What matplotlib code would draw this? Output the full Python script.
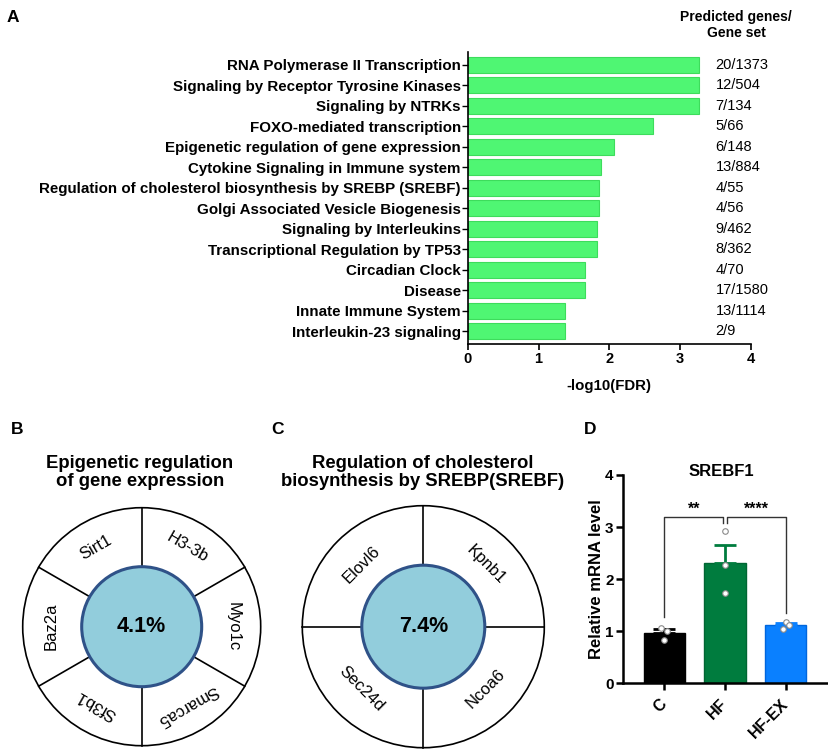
import matplotlib
matplotlib.use('Agg')
import matplotlib.pyplot as plt
import numpy as np
from matplotlib.patches import Circle

plt.rcParams['font.family'] = ['Liberation Sans', 'DejaVu Sans']

# ---------------- data ----------------
pathways = [
    'RNA Polymerase II Transcription',
    'Signaling by Receptor Tyrosine Kinases',
    'Signaling by NTRKs',
    'FOXO-mediated transcription',
    'Epigenetic regulation of gene expression',
    'Cytokine Signaling in Immune system',
    'Regulation of cholesterol biosynthesis by SREBP (SREBF)',
    'Golgi Associated Vesicle Biogenesis',
    'Signaling by Interleukins',
    'Transcriptional Regulation by TP53',
    'Circadian Clock',
    'Disease',
    'Innate Immune System',
    'Interleukin-23 signaling',
]
neglog_fdr = [3.26, 3.26, 3.26, 2.61, 2.07, 1.88, 1.86, 1.86, 1.82, 1.82,
              1.66, 1.66, 1.37, 1.37]
gene_ratio = ['20/1373', '12/504', '7/134', '5/66', '6/148', '13/884', '4/55',
              '4/56', '9/462', '8/362', '4/70', '17/1580', '13/1114', '2/9']

title_B = 'Epigenetic regulation\nof gene expression'
genes_B = ['Myo1c', 'H3-3b', 'Sirt1', 'Baz2a', 'Sf3b1', 'Smarca5']
pct_B = '4.1%'

title_C = 'Regulation of cholesterol\nbiosynthesis by SREBP(SREBF)'
genes_C = ['Kpnb1', 'Elovl6', 'Sec24d', 'Ncoa6']
pct_C = '7.4%'

groups = ['C', 'HF', 'HF-EX']
points = [[1.07, 1.01, 0.83], [2.92, 2.27, 1.74], [1.18, 1.11, 1.05]]
point_jitter = [[-0.06, 0.05, 0.0], [0.0, 0.0, 0.0], [0.0, 0.05, -0.05]]
sig_pairs = [(0, 1, '**'), (1, 2, '****')]
bracket_y = 3.19
bracket_tip = [1.28, 3.08, 1.35]

# ---------------- figure ----------------
W, H = 829, 752
fig = plt.figure(figsize=(W / 100, H / 100), dpi=100)

def fx(px):
    return px / W

def fy(py):
    return 1 - py / H

# ---- Panel A ----
axA = fig.add_axes([fx(467.7), fy(344), fx(751 - 467.7), (344 - 52) / H])
y = np.arange(len(pathways))
axA.barh(y, neglog_fdr, height=0.78, color='#4ff673', edgecolor='#3ddc5c',
         linewidth=0.8)
axA.set_ylim(len(pathways) - 1 + 0.63, -0.62)
axA.set_xlim(0, 4)
for s in ['top', 'right']:
    axA.spines[s].set_visible(False)
for s in ['left', 'bottom']:
    axA.spines[s].set_linewidth(1.2)
axA.set_yticks(y)
axA.set_yticklabels(pathways, fontsize=10.9, fontweight='bold')
axA.set_xticks([0, 1, 2, 3, 4])
axA.set_xticklabels(['0', '1', '2', '3', '4'], fontsize=10.5, fontweight='bold')
axA.tick_params(axis='y', length=4, width=1, pad=1)
axA.tick_params(axis='x', length=4, width=1.2, pad=2)
axA.set_xlabel('-log10(FDR)', fontsize=10.8, fontweight='bold', labelpad=9)
for i, r in enumerate(gene_ratio):
    axA.text(3.5, i, r, va='center', ha='left', fontsize=10.5, clip_on=False)
fig.text(fx(736), fy(25), 'Predicted genes/\nGene set', ha='center', va='center',
         fontsize=10, fontweight='bold', linespacing=1.15)

# ---- Panels B & C ----
axBC = fig.add_axes([0, 0, 550 / W, 372 / H])
axBC.set_xlim(0, 550)
axBC.set_ylim(0, 372)
axBC.axis('off')

def wheel(ax, cx, cy, R, r, rl, genes, pct, label_angles, div_angles, flip_bottom):
    ax.add_patch(Circle((cx, cy), R, fill=False, ec='black', lw=1.2, zorder=2))
    for a in div_angles:
        t = np.deg2rad(a)
        ax.plot([cx + r * np.cos(t), cx + R * np.cos(t)],
                [cy + r * np.sin(t), cy + R * np.sin(t)], color='black', lw=1.2,
                zorder=2)
    ax.add_patch(Circle((cx, cy), r, fc='#92cddc', ec='#2f5288', lw=2.2, zorder=3))
    ax.text(cx, cy, pct, ha='center', va='center', fontsize=15.5,
            fontweight='bold', zorder=4)
    for g, a in zip(genes, label_angles):
        t = np.deg2rad(a)
        rot = a - 90
        if flip_bottom and np.sin(t) < 0:
            rot = a + 90
        ax.text(cx + rl * np.cos(t), cy + rl * np.sin(t), g, ha='center',
                va='center', rotation=rot, rotation_mode='anchor', fontsize=12)

nB = len(genes_B)
angB = [360 * k / nB for k in range(nB)]
divB = [a + 180 / nB for a in angB]
wheel(axBC, 141.7, H - 626.7, 119, 60, 91, genes_B, pct_B, angB, divB, False)

nC = len(genes_C)
angC = [45 + 360 * k / nC for k in range(nC)]
divC = [a - 180 / nC for a in angC]
wheel(axBC, 423.3, H - 626.7, 121, 61.5, 88, genes_C, pct_C, angC, divC, True)

axBC.text(140, H - 472.5, title_B, ha='center', va='center', fontsize=13.3,
          fontweight='bold', linespacing=1.15)
axBC.text(423, H - 472.5, title_C, ha='center', va='center', fontsize=13.3,
          fontweight='bold', linespacing=1.15)

# ---- Panel D ----
axD = fig.add_axes([fx(622.7), fy(683.3), fx(826.7 - 622.7), (683.3 - 475) / H])
xg = np.arange(len(groups))
means = [np.mean(p) for p in points]
sems = [np.std(p, ddof=1) / np.sqrt(len(p)) for p in points]
bar_colors = ['#000000', '#007c3e', '#0a80ff']
edge_colors = ['#000000', '#006633', '#0066dd']
axD.bar(xg, means, width=0.68, color=bar_colors, edgecolor=edge_colors,
        linewidth=1, zorder=2)
for i in range(len(groups)):
    axD.errorbar(xg[i], means[i], yerr=[[0], [sems[i]]], color=bar_colors[i],
                 capsize=8, capthick=2, elinewidth=2, zorder=3)
    axD.scatter(xg[i] + np.array(point_jitter[i]), points[i], s=16, c='white',
                edgecolors='#8a8a8a', linewidths=0.8, zorder=4)
for a, b, s in sig_pairs:
    xa = a + (0.025 if a == 1 else 0)
    xb = b - (0.025 if b == 1 else 0)
    axD.plot([xa, xa, xb, xb], [bracket_tip[a], bracket_y, bracket_y, bracket_tip[b]],
             color='#333333', lw=1, zorder=1)
    axD.text((xa + xb) / 2, bracket_y + 0.15, s, ha='center', va='center',
             fontsize=11.5, fontweight='bold')
axD.set_xlim(-0.69, 2.68)
axD.set_ylim(0, 4)
for s in ['top', 'right']:
    axD.spines[s].set_visible(False)
for s in ['left', 'bottom']:
    axD.spines[s].set_linewidth(1.8)
axD.set_yticks([0, 1, 2, 3, 4])
axD.set_yticklabels(['0', '1', '2', '3', '4'], fontsize=11, fontweight='bold')
axD.set_xticks(xg)
axD.set_xticklabels(groups, fontsize=11.5, fontweight='bold', rotation=45,
                    ha='right', va='center', rotation_mode='anchor')
axD.tick_params(axis='both', length=5, width=1.8)
axD.tick_params(axis='y', pad=1.5)
axD.tick_params(axis='x', pad=8)
axD.set_ylabel('Relative mRNA level', fontsize=12, fontweight='bold', labelpad=1)
axD.text(0.485, 1.016, 'SREBF1', transform=axD.transAxes, ha='center',
         va='center', fontsize=12, fontweight='bold')

# panel letters
for lab, px, py in [('A', 13, 17), ('B', 16.7, 430), ('C', 278, 430), ('D', 590, 430)]:
    fig.text(fx(px), fy(py), lab, ha='center', va='center', fontsize=12.5,
             fontweight='bold')

fig.savefig('out.png', dpi=100)
